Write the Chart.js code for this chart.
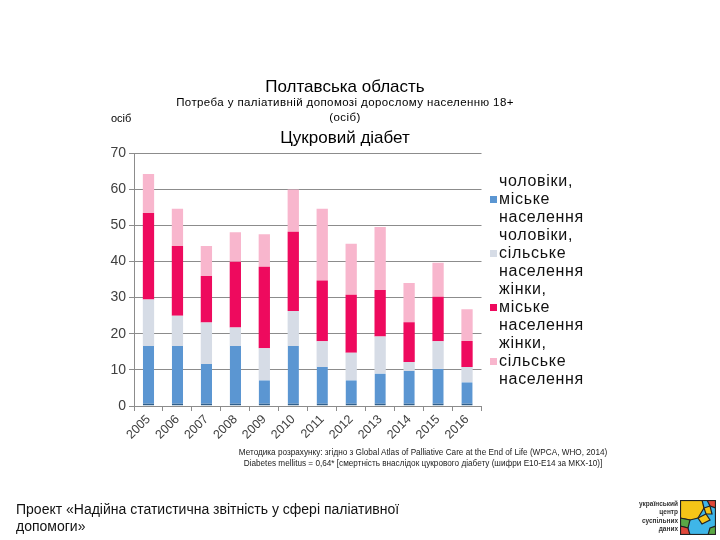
<!DOCTYPE html>
<html>
<head>
<meta charset="utf-8">
<script src="https://cdn.jsdelivr.net/npm/chart.js@4.4.1/dist/chart.umd.min.js"></script>
<style>
  body{margin:0;background:#fff;font-family:'Liberation Sans',Arial,sans-serif;}
  #page{position:relative;width:720px;height:540px;overflow:hidden;}
  #chart{position:absolute;left:0;top:0;}
  .t{position:absolute;color:#000;white-space:nowrap;}
  #legend .line{position:absolute;left:499px;font-size:16px;line-height:18px;color:#111;letter-spacing:0.7px;}
  #legend .box{position:absolute;left:490px;width:7px;height:7px;}
  #logo{position:absolute;left:680px;top:500px;}
</style>
</head>
<body>
<div id="page">
  <canvas id="chart" width="720" height="540"></canvas>

  <div class="t" style="left:145px;width:400px;top:77px;font-size:17px;line-height:20px;text-align:center;">Полтавська область</div>
  <div class="t" style="left:145px;width:400px;top:94.5px;font-size:11.5px;line-height:15px;text-align:center;letter-spacing:0.4px;">Потреба у паліативній допомозі дорослому населенню 18+<br>(осіб)</div>
  <div class="t" style="left:111px;top:111px;font-size:11px;line-height:14px;">осіб</div>
  <div class="t" style="left:145px;width:400px;top:128px;font-size:17px;line-height:20px;text-align:center;">Цукровий діабет</div>

  <div id="legend"></div>

  <div class="t" style="left:173px;width:500px;top:446.5px;font-size:8.2px;line-height:11px;text-align:center;color:#222;">Методика розрахунку: згідно з Global Atlas of Palliative Care at the End of Life (WPCA, WHO, 2014)<br>Diabetes mellitus = 0,64* [смертність внаслідок цукрового діабету (шифри Е10-Е14 за МКХ-10)]</div>

  <div class="t" style="left:16px;top:501px;font-size:14px;line-height:17px;color:#111;">Проект «Надійна статистична звітність у сфері паліативної<br>допомоги»</div>

  <div class="t" style="left:600px;width:78px;top:500px;font-size:6.5px;line-height:8.3px;text-align:right;font-weight:bold;color:#333;">український<br>центр<br>суспільних<br>даних</div>
  <canvas id="logo" width="36" height="35"></canvas>
</div>
<script>
// ---------- data ----------
const years = ['2005','2006','2007','2008','2009','2010','2011','2012','2013','2014','2015','2016'];
const menUrban   = [16.6,16.6,11.6,16.6, 7.1,16.6,10.8, 7.1, 9.0, 9.7,10.3, 6.6];
const menRural   = [12.9, 8.4,11.5, 5.1, 8.9, 9.7, 7.1, 7.6,10.2, 2.5, 7.6, 4.2];
const womenUrban = [23.9,19.3,12.9,18.2,22.5,21.9,16.8,16.1,12.9,11.0,12.3, 7.2];
const womenRural = [10.8,10.3, 8.3, 8.2, 9.0,11.7,19.9,14.1,17.4,10.8, 9.4, 8.8];
const seriesLabels = ['чоловіки, міське населення','чоловіки, сільське населення','жінки, міське населення','жінки, сільське населення'];
const seriesColors = ['#5b96d2','#d6dce6','#ee0a5e','#f8b6cd'];
const yTicks = [0,10,20,30,40,50,60,70];

const FONT = "'Liberation Sans', Arial, sans-serif";
const GRID = '#8c8c8c';

// ---------- chart ----------
const seriesData = [menUrban, menRural, womenUrban, womenRural];
const datasets = seriesData.map((d,i)=>({
  label: seriesLabels[i],
  data: d,
  backgroundColor: seriesColors[i],
  borderColor: i===0 ? '#2f5f8c' : seriesColors[i],
  borderWidth: i===0 ? {top:0,left:0,right:0,bottom:2} : 0,
  borderSkipped: false,
  categoryPercentage: 1,
  barPercentage: 0.39
}));

const ctx = document.getElementById('chart').getContext('2d');
new Chart(ctx,{
  type:'bar',
  data:{labels:years,datasets},
  options:{
    responsive:false, animation:false,
    layout:{padding:{left:100,top:153,right:238.5,bottom:84}},
    plugins:{legend:{display:false},tooltip:{enabled:false}},
    scales:{
      x:{stacked:true,
         grid:{drawOnChartArea:false,tickLength:5,color:GRID,offset:true},
         border:{color:GRID},
         ticks:{minRotation:45,maxRotation:45,padding:1,color:'#404040',font:{family:FONT,size:12.5}},
         afterFit:s=>{s.height=50;}
      },
      y:{stacked:true,min:0,max:70,
         afterBuildTicks:s=>{s.ticks=yTicks.map(v=>({value:v}));},
         grid:{color:GRID,tickLength:5},
         border:{color:GRID},
         ticks:{padding:3,color:'#404040',font:{family:FONT,size:14}},
         afterFit:s=>{s.width=34;}
      }
    }
  }
});

// ---------- legend (3 lines per entry, box on second line) ----------
const legend = document.getElementById('legend');
seriesLabels.forEach((lab,i)=>{
  const parts = lab.split(' ');
  parts.forEach((p,j)=>{
    const el = document.createElement('div');
    el.className='line';
    el.textContent=p;
    el.style.top=(172 + i*54 + j*18)+'px';
    legend.appendChild(el);
  });
  const b = document.createElement('div');
  b.className='box';
  b.style.background=seriesColors[i];
  b.style.top=(172 + i*54 + 18 + 6)+'px';
  legend.appendChild(b);
});

// ---------- logo mosaic ----------
(function(){
  const g = document.getElementById('logo').getContext('2d');
  g.fillStyle='#3fb6e8'; g.fillRect(0,0,36,35);
  const polys = [
    ['#f5c518',[[0,0],[22,0],[24,8],[18,18],[10,20],[0,18]]],
    ['#e0483a',[[27,0],[36,0],[36,8],[30,6]]],
    ['#f5c518',[[24,8],[30,6],[32,14],[26,14]]],
    ['#5aa845',[[0,18],[10,20],[8,28],[0,26]]],
    ['#e0483a',[[0,26],[8,28],[10,35],[0,35]]],
    ['#f5c518',[[18,18],[26,14],[30,20],[22,24]]],
    ['#5aa845',[[30,28],[36,26],[36,35],[28,35]]]
  ];
  g.strokeStyle='#222'; g.lineWidth=1.2;
  polys.forEach(([c,pts])=>{
    g.beginPath(); g.moveTo(pts[0][0],pts[0][1]);
    pts.slice(1).forEach(p=>g.lineTo(p[0],p[1]));
    g.closePath(); g.fillStyle=c; g.fill(); g.stroke();
  });
  g.strokeRect(0.5,0.5,35,34);
})();
</script>
</body>
</html>
